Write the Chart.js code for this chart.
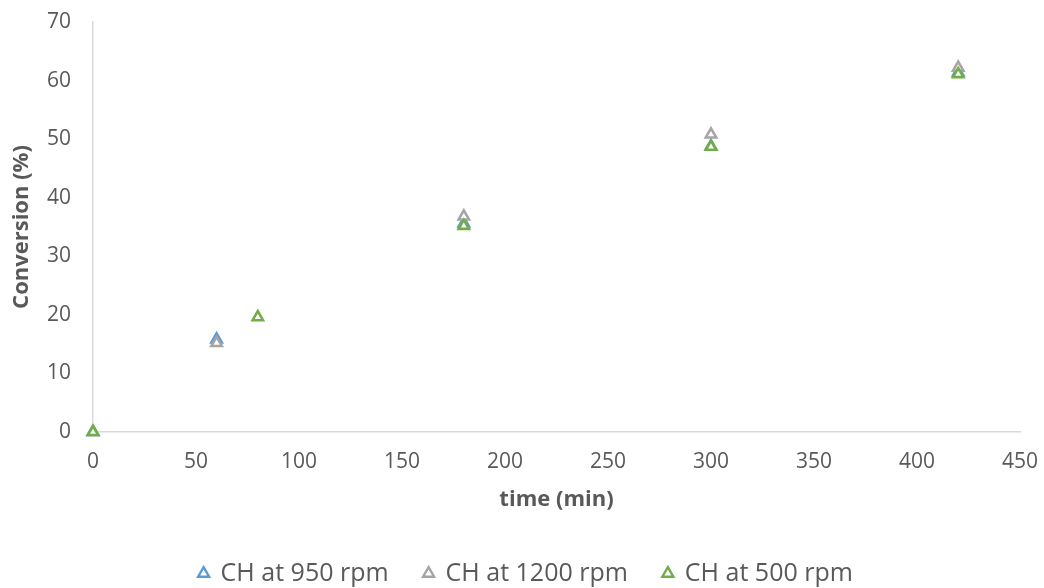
<!DOCTYPE html>
<html>
<head>
<meta charset="utf-8">
<script src="https://cdn.jsdelivr.net/npm/chart.js@4/dist/chart.umd.min.js"></script>
<style>
html,body{margin:0;padding:0;background:#fff;}
#wrap{width:1044px;height:588px;position:relative;}
</style>
</head>
<body>
<div id="wrap"><canvas id="c" width="1044" height="588"></canvas></div>
<script>
// Data
const seriesNames = ["CH at 950 rpm", "CH at 1200 rpm", "CH at 500 rpm"];
const time950 = [0, 60, 180, 300, 420];
const conv950 = [0, 15.8, 35.6, 48.8, 61.4];
const time1200 = [0, 60, 180, 300, 420];
const conv1200 = [0, 15.2, 36.8, 50.8, 62.2];
const time500 = [0, 80, 180, 300, 420];
const conv500 = [0, 19.6, 35.2, 48.7, 61.1];
const colors = ["#5b9bd5", "#a5a5a5", "#70ad47"];

function pts(xs, ys){ return xs.map((x,i)=>({x:x, y:ys[i]})); }

const datasets = [
  [time950, conv950], [time1200, conv1200], [time500, conv500]
].map((d, i) => ({
  label: seriesNames[i],
  data: pts(d[0], d[1]),
  order: 2 - i,
  clip: false,
  showLine: false,
  pointStyle: 'triangle',
  pointRadius: 6,
  pointHoverRadius: 6,
  pointBorderWidth: 2.6,
  borderColor: colors[i],
  backgroundColor: '#ffffff',
  pointBackgroundColor: '#ffffff',
  pointBorderColor: colors[i]
}));

const fontFam = "'Open Sans', 'Liberation Sans', sans-serif";

const legendShift = {
  id: 'legendShift',
  afterLayout(chart){
    if (chart.legend){ chart.legend.left += 16; chart.legend.right += 16; }
  }
};

new Chart(document.getElementById('c'), {
  type: 'scatter',
  data: { datasets: datasets },
  plugins: [legendShift],
  options: {
    responsive: false,
    animation: false,
    layout: { padding: { left: 0, right: 24, top: 22, bottom: -8 } },
    plugins: {
      tooltip: { enabled: false },
      legend: {
        position: 'bottom',
        labels: {
          usePointStyle: true,
          pointStyle: 'triangle',
          boxWidth: 9,
          boxHeight: 9,
          padding: 3,
          color: '#595959',
          font: { family: fontFam, size: 25 },
          generateLabels: function(chart){
            return chart.data.datasets.map((ds, i) => ({
              text: ds.label + (i < 2 ? '     ' : ''),
              fillStyle: '#ffffff',
              strokeStyle: colors[i],
              lineWidth: 2.4,
              pointStyle: 'triangle',
              fontColor: '#595959',
              datasetIndex: i,
              hidden: false
            }));
          }
        }
      }
    },
    scales: {
      x: {
        type: 'linear',
        min: 0, max: 450,
        ticks: { stepSize: 50, color: '#595959', padding: 17, font: { family: fontFam, size: 21 } },
        grid: { display: false, drawTicks: false },
        border: { display: true, color: '#d9d9d9', width: 1.5 },
        title: { display: true, text: 'time (min)', color: '#595959',
                 font: { family: fontFam, size: 22, weight: 'bold' }, padding: { top: 0, bottom: 45 } },
        afterFit: function(axis){ axis.height = 126; axis.paddingLeft = 0; axis.paddingRight = 0; }
      },
      y: {
        type: 'linear',
        min: 0, max: 70,
        ticks: { stepSize: 10, color: '#595959', padding: 22, font: { family: fontFam, size: 21 } },
        grid: { display: false, drawTicks: false },
        border: { display: true, color: '#d9d9d9', width: 1.5 },
        title: { display: true, text: 'Conversion (%)', color: '#595959',
                 font: { family: fontFam, size: 22, weight: 'bold' }, padding: { top: 9, bottom: 0 } },
        afterFit: function(axis){ axis.width = 93; axis.paddingTop = 0; axis.paddingBottom = 0; }
      }
    }
  }
});
</script>
</body>
</html>
